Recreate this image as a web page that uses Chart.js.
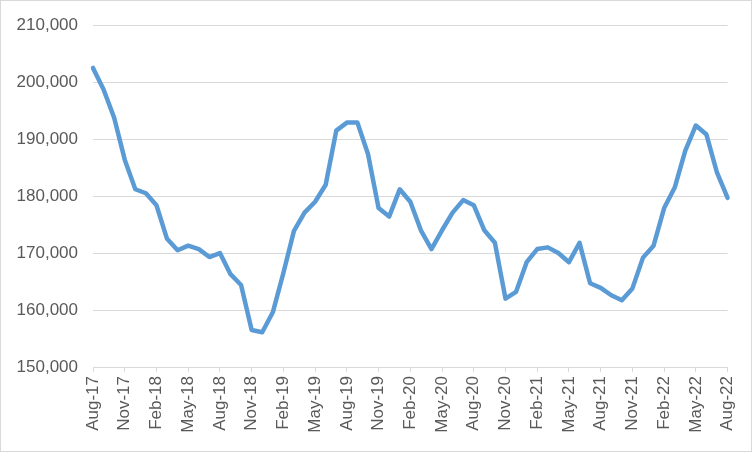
<!DOCTYPE html>
<html>
<head>
<meta charset="utf-8">
<script src="https://cdn.jsdelivr.net/npm/chart.js@4"></script>
<style>
html,body{margin:0;padding:0;background:#fff;}
#wrap{width:752px;height:452px;position:relative;}
</style>
</head>
<body>
<div id="wrap"><canvas id="c" width="752" height="452"></canvas></div>
<script>
const months = [
 'Aug-17','Sep-17','Oct-17','Nov-17','Dec-17','Jan-18','Feb-18','Mar-18','Apr-18','May-18','Jun-18','Jul-18',
 'Aug-18','Sep-18','Oct-18','Nov-18','Dec-18','Jan-19','Feb-19','Mar-19','Apr-19','May-19','Jun-19','Jul-19',
 'Aug-19','Sep-19','Oct-19','Nov-19','Dec-19','Jan-20','Feb-20','Mar-20','Apr-20','May-20','Jun-20','Jul-20',
 'Aug-20','Sep-20','Oct-20','Nov-20','Dec-20','Jan-21','Feb-21','Mar-21','Apr-21','May-21','Jun-21','Jul-21',
 'Aug-21','Sep-21','Oct-21','Nov-21','Dec-21','Jan-22','Feb-22','Mar-22','Apr-22','May-22','Jun-22','Jul-22',
 'Aug-22'
];
const values = [
 202500,198700,193750,186400,181200,180500,178400,172500,170500,171300,170700,169300,
 170000,166300,164400,156500,156100,159600,166500,173900,177100,179000,182000,191500,
 192900,192900,187400,177900,176400,181200,179000,174000,170700,174000,177100,179300,
 178400,174000,171800,162000,163200,168400,170700,171000,170000,168400,171800,164700,
 163900,162600,161700,163800,169200,171300,177900,181500,188000,192400,190800,184100,
 179700
];
const yTicks = [150000,160000,170000,180000,190000,200000,210000];

const borderPlugin = {
  id:'outerBorder',
  beforeDraw(chart){
    const c = chart.ctx;
    c.save();
    c.fillStyle = '#ffffff';
    c.fillRect(0,0,chart.width,chart.height);
    c.restore();
  },
  afterDraw(chart){
    const c = chart.ctx;
    c.save();
    c.strokeStyle = '#d9d9d9';
    c.lineWidth = 1;
    c.strokeRect(0.5,0.5,chart.width-1,chart.height-1);
    c.restore();
  }
};

new Chart(document.getElementById('c'), {
  type:'line',
  data:{
    labels: months,
    datasets:[{
      data: values,
      borderColor:'#5b9bd5',
      borderWidth:4.5,
      pointRadius:0,
      tension:0,
      borderCapStyle:'round',
      borderJoinStyle:'round',
      fill:false
    }]
  },
  options:{
    responsive:false,
    animation:false,
    devicePixelRatio:1,
    layout:{padding:{left:0,right:24,top:24,bottom:0}},
    plugins:{legend:{display:false},tooltip:{enabled:false}},
    scales:{
      x:{
        offset:false,
        afterFit(s){ s.height = 85; },
        border:{display:true,color:'#d9d9d9',width:1},
        grid:{
          drawOnChartArea:false,
          drawTicks:true,
          tickLength:5,
          color:(ctx)=> (ctx.index % 3 === 0 ? '#d9d9d9' : 'rgba(0,0,0,0)')
        },
        ticks:{
          autoSkip:false,
          maxRotation:90,
          minRotation:90,
          padding:4,
          color:'#595959',
          font:{family:'Liberation Sans',size:17},
          callback:(v,i)=> (i % 3 === 0 ? months[i] : '')
        }
      },
      y:{
        min:yTicks[0],
        max:yTicks[yTicks.length-1],
        afterFit(s){ s.width = 93; },
        afterBuildTicks(s){ s.ticks = yTicks.map(v=>({value:v})); },
        border:{display:false},
        grid:{color:'#d9d9d9',lineWidth:1,drawTicks:false},
        ticks:{
          padding:15,
          color:'#595959',
          font:{family:'Liberation Sans',size:17},
          callback:(v)=> v.toLocaleString('en-US')
        }
      }
    }
  },
  plugins:[borderPlugin]
});
</script>
</body>
</html>
